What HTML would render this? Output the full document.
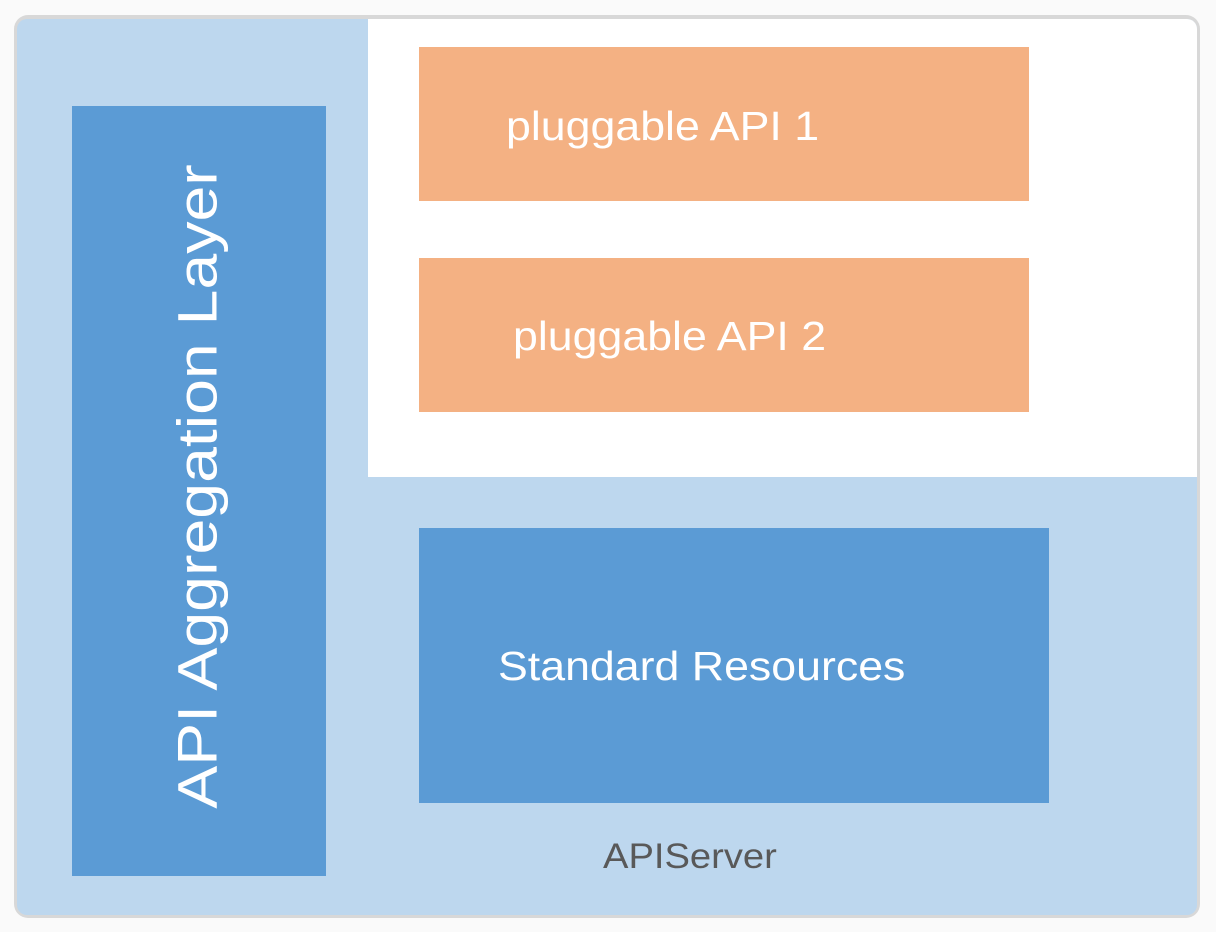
<!DOCTYPE html>
<html><head><style>
body{margin:0;width:1216px;height:932px;background:#fafafa;position:relative;overflow:hidden;font-family:"Liberation Sans",sans-serif}
.card{position:absolute;left:14px;top:15px;width:1186px;height:903px;border-radius:14px;background:#d8d8d8;}
.fill{position:absolute;left:17px;top:19px;width:1180px;height:896px;border-radius:10px;background:#bdd7ee;overflow:hidden}
.abs{position:absolute}
.t{transform-origin:0 50%;transform:scaleX(1.09);white-space:nowrap}
</style></head><body>
<div class="card"></div>
<div class="fill">
  <div class="abs" style="left:351px;top:0;width:829px;height:458px;background:#fff"></div>
</div>
<div class="abs" style="left:72px;top:106px;width:254px;height:770px;background:#5b9bd5"></div>
<div class="abs" style="left:72px;top:106px;width:254px;height:770px;display:flex;align-items:center;justify-content:center">
  <div style="transform:rotate(-90deg) scaleX(1.15);white-space:nowrap;color:#fff;font-size:56px;margin-top:-10px;margin-left:-4px">API Aggregation Layer</div>
</div>
<div class="abs" style="left:419px;top:47px;width:610px;height:154px;background:#f4b183"></div>
<div class="abs t" style="left:506px;top:103px;color:#fff;font-size:41px;line-height:46px">pluggable API 1</div>
<div class="abs" style="left:419px;top:258px;width:610px;height:154px;background:#f4b183"></div>
<div class="abs t" style="left:513px;top:313px;color:#fff;font-size:41px;line-height:46px">pluggable API 2</div>
<div class="abs" style="left:419px;top:528px;width:630px;height:275px;background:#5b9bd5"></div>
<div class="abs t" style="left:498px;top:643px;color:#fff;font-size:41px;line-height:46px">Standard Resources</div>
<div class="abs t" style="left:603px;top:837px;color:#595959;font-size:35px;line-height:40px">APIServer</div>
</body></html>
